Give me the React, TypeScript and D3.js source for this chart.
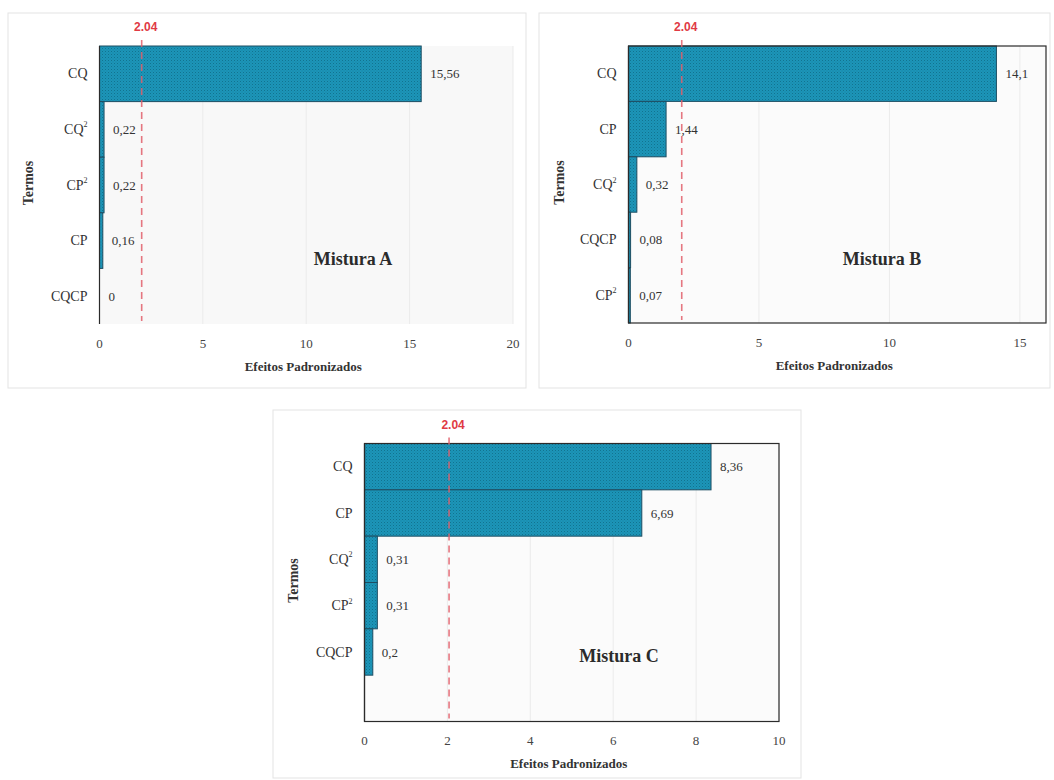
import React from "react";
import * as d3 from "d3";

// Terms and standardized effects for each mixture
const termsA = ["CQ", "CQ²", "CP²", "CP", "CQCP"];
const effectsA = [15.56, 0.22, 0.22, 0.16, 0];
const ticksA = [0, 5, 10, 15, 20];

const termsB = ["CQ", "CP", "CQ²", "CQCP", "CP²"];
const effectsB = [14.1, 1.44, 0.32, 0.08, 0.07];
const ticksB = [0, 5, 10, 15];

const termsC = ["CQ", "CP", "CQ²", "CP²", "CQCP", ""];
const effectsC = [8.36, 6.69, 0.31, 0.31, 0.2, NaN];
const ticksC = [0, 2, 4, 6, 8, 10];

// Critical t value (p = 0.05)
const tCritical = 2.04;
const tCriticalLabel = "2.04";

const xTitle = "Efeitos Padronizados";
const yTitle = "Termos";

const SERIF = "Times New Roman, Liberation Serif, Tinos, DejaVu Serif, serif";
const SANS = "Liberation Sans, Arial, sans-serif";

type PanelProps = {
  id: string;
  box: [number, number, number, number];
  plot: { left: number; right: number; top: number; bottom: number };
  terms: string[];
  values: number[];
  ticks: number[];
  xMax: number;
  title: string;
  titlePos: [number, number];
  framed: boolean;
  plotFill: string;
};

function TermLabel({ text, x, y }: { text: string; x: number; y: number }) {
  const hasSq = text.endsWith("²");
  const base = hasSq ? text.slice(0, -1) : text;
  return (
    <text
      x={x}
      y={y}
      textAnchor="end"
      dominantBaseline="central"
      style={{ fontFamily: SERIF, fontSize: 14 }}
      fill="#333"
    >
      {base}
      {hasSq && (
        <tspan style={{ fontSize: 8 }} dy={-5}>
          2
        </tspan>
      )}
    </text>
  );
}

function Panel(p: PanelProps) {
  const [bx, by, bw, bh] = p.box;
  const x = d3.scaleLinear().domain([0, p.xMax]).range([p.plot.left, p.plot.right]);
  const y = d3
    .scaleBand<string>()
    .domain(p.terms.map((t, i) => `${i}`))
    .range([p.plot.top, p.plot.bottom])
    .padding(0);
  const fmt = (v: number) => String(v).replace(".", ",");
  const xt = x(tCritical);
  const serif = (size: number, bold = false) => ({
    fontFamily: SERIF,
    fontSize: size,
    fontWeight: bold ? 700 : 400,
  });

  return (
    <g>
      <rect x={bx} y={by} width={bw} height={bh} fill="#ffffff" stroke="#e3e3e3" strokeWidth={1} />
      <rect
        x={p.plot.left}
        y={p.plot.top}
        width={p.plot.right - p.plot.left}
        height={p.plot.bottom - p.plot.top}
        fill={p.plotFill}
      />
      {p.ticks
        .filter((t) => t > 0)
        .map((t) => (
          <line
            key={`g${t}`}
            x1={x(t)}
            x2={x(t)}
            y1={p.plot.top}
            y2={p.plot.bottom}
            stroke="#ebebeb"
            strokeWidth={1}
          />
        ))}
      {p.terms.map((t, i) =>
        Number.isFinite(p.values[i]) ? (
          <rect
            key={`b${i}`}
            x={x(0)}
            y={y(`${i}`)!}
            width={Math.max(0, x(p.values[i]) - x(0))}
            height={y.bandwidth()}
            fill={`url(#dots-${p.id})`}
            stroke="#1d4e63"
            strokeWidth={1}
          />
        ) : null
      )}
      {p.framed && (
        <rect
          x={p.plot.left}
          y={p.plot.top}
          width={p.plot.right - p.plot.left}
          height={p.plot.bottom - p.plot.top}
          fill="none"
          stroke="#2b2b2b"
          strokeWidth={1.2}
        />
      )}
      <line x1={x(0)} x2={x(0)} y1={p.plot.top} y2={p.plot.bottom} stroke="#2b2b2b" strokeWidth={1.2} />
      {/* critical value line */}
      <line
        x1={xt}
        x2={xt}
        y1={p.plot.top - 6}
        y2={p.plot.bottom - 3}
        stroke="#e2606c"
        strokeWidth={1.6}
        strokeDasharray="7,5"
        opacity={0.85}
      />
      <text
        x={xt + 4}
        y={p.plot.top - 19}
        textAnchor="middle"
        dominantBaseline="central"
        style={{ fontFamily: SANS, fontWeight: 700, fontSize: 12 }}
        fill="#e03a44"
      >
        {tCriticalLabel}
      </text>
      {p.terms.map((t, i) => (
        <TermLabel key={`t${i}`} text={t} x={p.plot.left - 12} y={y(`${i}`)! + y.bandwidth() / 2} />
      ))}
      {p.terms.map((t, i) =>
        Number.isFinite(p.values[i]) ? (
          <text
            key={`v${i}`}
            x={x(p.values[i]) + 9}
            y={y(`${i}`)! + y.bandwidth() / 2}
            dominantBaseline="central"
            style={serif(13)}
            fill="#333"
          >
            {fmt(p.values[i])}
          </text>
        ) : null
      )}
      {p.ticks.map((t) => (
        <text
          key={`k${t}`}
          x={x(t)}
          y={p.plot.bottom + 19}
          textAnchor="middle"
          dominantBaseline="central"
          style={serif(13)}
          fill="#444"
        >
          {t}
        </text>
      ))}
      <text
        x={(p.plot.left + p.plot.right) / 2 - 3}
        y={p.plot.bottom + 42}
        textAnchor="middle"
        dominantBaseline="central"
        style={serif(13, true)}
        fill="#333"
      >
        {xTitle}
      </text>
      <text
        transform={`translate(${bx + 20}, ${(p.plot.top + p.plot.bottom) / 2 - 2}) rotate(-90)`}
        textAnchor="middle"
        dominantBaseline="central"
        style={serif(14, true)}
        fill="#333"
      >
        {yTitle}
      </text>
      <text
        x={p.titlePos[0]}
        y={p.titlePos[1]}
        textAnchor="middle"
        dominantBaseline="central"
        style={serif(18, true)}
        fill="#2b2b2b"
      >
        {p.title}
      </text>
    </g>
  );
}

export default function App() {
  const ids = ["a", "b", "c"];
  return (
    <svg
      width={1054}
      height={780}
      style={{ position: "absolute", left: 0, top: 0, background: "#ffffff" }}
    >
      <defs>
        {ids.map((id) => (
          <pattern key={id} id={`dots-${id}`} width={3} height={3} patternUnits="userSpaceOnUse">
            <rect width={3} height={3} fill="#1c95b8" />
            <rect x={0} y={0} width={1} height={1} fill="#12738f" />
            <rect x={1.5} y={1.5} width={1} height={1} fill="#1680a1" />
          </pattern>
        ))}
      </defs>
      <Panel
        id="a"
        box={[8, 13, 518, 375]}
        plot={{ left: 99.5, right: 513, top: 46, bottom: 324 }}
        terms={termsA}
        values={effectsA}
        ticks={ticksA}
        xMax={20}
        title="Mistura A"
        titlePos={[353, 259]}
        framed={false}
        plotFill="#f8f8f8"
      />
      <Panel
        id="b"
        box={[539, 13, 511, 375]}
        plot={{ left: 628.5, right: 1046, top: 46, bottom: 323 }}
        terms={termsB}
        values={effectsB}
        ticks={ticksB}
        xMax={16}
        title="Mistura B"
        titlePos={[882, 259]}
        framed={true}
        plotFill="#fbfbfb"
      />
      <Panel
        id="c"
        box={[273, 410, 528, 368]}
        plot={{ left: 364.5, right: 779, top: 443.5, bottom: 721.5 }}
        terms={termsC}
        values={effectsC}
        ticks={ticksC}
        xMax={10}
        title="Mistura C"
        titlePos={[619, 656]}
        framed={true}
        plotFill="#fbfbfb"
      />
    </svg>
  );
}
